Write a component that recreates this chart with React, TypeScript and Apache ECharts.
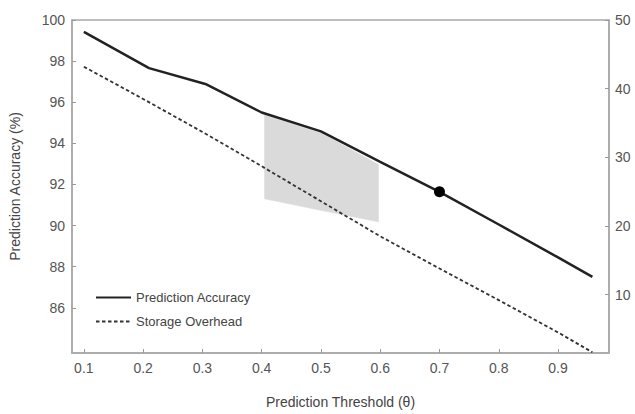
import React, { useEffect, useRef } from "react";
import * as echarts from "echarts";

// Tick labels
const xTicks = [0.1, 0.2, 0.3, 0.4, 0.5, 0.6, 0.7, 0.8, 0.9];
const leftTicks = [86, 88, 90, 92, 94, 96, 98, 100];
const rightTicks = [10, 20, 30, 40, 50];

// Prediction Accuracy (left axis, %)
const accX = [0.1, 0.21, 0.305, 0.4, 0.5, 0.6, 0.7, 0.8, 0.9, 0.958];
const accY = [99.42, 97.66, 96.89, 95.5, 94.58, 93.1, 91.64, 90.05, 88.45, 87.5];

// Storage Overhead (right axis)
const ovX = [0.1, 0.2, 0.3, 0.4, 0.5, 0.6, 0.7, 0.8, 0.9, 0.958];
const ovY = [43.2, 38.5, 33.7, 28.7, 23.6, 18.5, 13.8, 9.2, 4.5, 1.6];

// Highlighted marker
const markerX = [0.7];
const markerY = [91.64];

// Shaded band
const shadeX = [0.405, 0.5, 0.597];
const shadeUpper = [95.37, 94.5, 92.97];
const shadeLower = [91.3, 90.74, 90.18];

const FONT = "'Liberation Sans', Arial, sans-serif";
const AXIS_COLOR = "#a8a8a8";

export default function App() {
  const ref = useRef<HTMLDivElement>(null);
  useEffect(() => {
    const chart = echarts.init(ref.current!, null, { renderer: "svg" });
    const option: any = {
      animation: false,
      backgroundColor: "#fff",
      textStyle: { fontFamily: FONT },
      grid: {
        left: 72,
        right: 26,
        top: 20,
        bottom: 56,
        show: true,
        borderColor: AXIS_COLOR,
        borderWidth: 1.5,
        backgroundColor: "transparent",
      },
      legend: {
        data: ["Prediction Accuracy", "Storage Overhead"],
        orient: "vertical",
        left: 95,
        top: 291,
        padding: 0,
        itemWidth: 35,
        itemHeight: 14,
        itemGap: 11,
        itemStyle: { opacity: 0 },
        textStyle: { fontSize: 13, color: "#444", fontFamily: FONT },
      },
      xAxis: {
        type: "value",
        min: 0.08,
        max: 0.986,
        name: "Prediction Threshold (θ)",
        nameLocation: "middle",
        nameGap: 42,
        nameTextStyle: { fontSize: 14, color: "#444", fontFamily: FONT },
        axisLine: { show: true, lineStyle: { color: AXIS_COLOR, width: 1.5 } },
        axisTick: {
          show: true,
          inside: true,
          length: 4,
          customValues: xTicks,
          lineStyle: { color: "#999" },
        },
        axisLabel: {
          customValues: xTicks,
          formatter: (v: number) => v.toFixed(1),
          fontSize: 14,
          color: "#555",
          margin: 8,
        },
        splitLine: { show: false },
      },
      yAxis: [
        {
          type: "value",
          position: "left",
          min: 83.8,
          max: 100,
          name: "Prediction Accuracy (%)",
          nameLocation: "middle",
          nameGap: 50,
          nameTextStyle: { fontSize: 14, color: "#444", fontFamily: FONT },
          axisLine: { show: true, lineStyle: { color: AXIS_COLOR, width: 1.5 } },
          axisTick: {
            show: true,
            inside: true,
            length: 4,
            customValues: leftTicks,
            lineStyle: { color: "#999" },
          },
          axisLabel: {
            customValues: leftTicks,
            fontSize: 14,
            color: "#555",
            margin: 7,
          },
          splitLine: { show: false },
        },
        {
          type: "value",
          position: "right",
          min: 1.5,
          max: 50,
          axisLine: { show: true, lineStyle: { color: AXIS_COLOR, width: 1.5 } },
          axisTick: {
            show: true,
            inside: true,
            length: 4,
            customValues: rightTicks,
            lineStyle: { color: "#999" },
          },
          axisLabel: {
            customValues: rightTicks,
            fontSize: 14,
            color: "#555",
            margin: 6,
          },
          splitLine: { show: false },
        },
      ],
      series: [
        {
          type: "custom",
          name: "band",
          xAxisIndex: 0,
          yAxisIndex: 0,
          z: 1,
          silent: true,
          data: shadeX.map((x, i) => [x, shadeUpper[i], shadeLower[i]]),
          encode: { x: 0, y: [1, 2] },
          renderItem: (params: any, api: any) => {
            const i = params.dataIndex;
            if (i >= shadeX.length - 1) return null;
            const a = api.coord([shadeX[i], shadeUpper[i]]);
            const b = api.coord([shadeX[i + 1], shadeUpper[i + 1]]);
            const c = api.coord([shadeX[i + 1], shadeLower[i + 1]]);
            const d = api.coord([shadeX[i], shadeLower[i]]);
            return {
              type: "polygon",
              shape: { points: [a, b, c, d] },
              style: { fill: "#dadada", stroke: "#dadada", lineWidth: 0.6 },
            };
          },
        },
        {
          type: "line",
          name: "Prediction Accuracy",
          yAxisIndex: 0,
          data: accX.map((x, i) => [x, accY[i]]),
          symbol: "none",
          lineStyle: { color: "#222", width: 2.5 },
          itemStyle: { color: "#222" },
          z: 3,
        },
        {
          type: "line",
          name: "Storage Overhead",
          yAxisIndex: 1,
          data: ovX.map((x, i) => [x, ovY[i]]),
          symbol: "none",
          lineStyle: { color: "#333", width: 1.8, type: [3.5, 2.5] },
          itemStyle: { color: "#333" },
          z: 3,
        },
        {
          type: "scatter",
          name: "marker",
          yAxisIndex: 0,
          data: markerX.map((x, i) => [x, markerY[i]]),
          symbol: "circle",
          symbolSize: 11,
          itemStyle: { color: "#000", opacity: 1 },
          z: 4,
        },
      ],
    };
    chart.setOption(option);
    return () => chart.dispose();
  }, []);
  return (
    <div
      ref={ref}
      style={{ position: "fixed", left: 0, top: 0, width: 635, height: 414, background: "#fff" }}
    />
  );
}
